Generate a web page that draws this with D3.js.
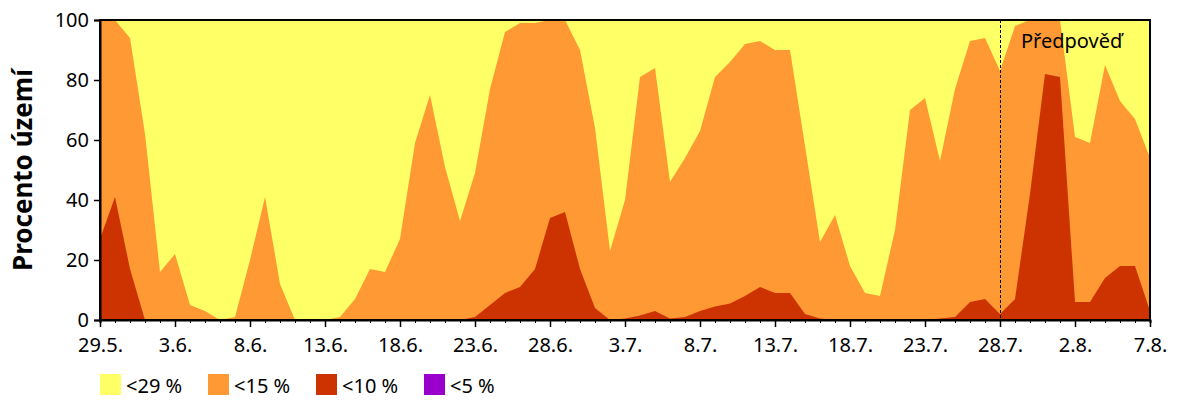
<!DOCTYPE html>
<html><head><meta charset="utf-8">
<script src="https://cdn.jsdelivr.net/npm/d3@7"></script>
<style>body{margin:0;background:#fff}svg{display:block}text{font-family:"Noto Sans","Open Sans",sans-serif;fill:#000}</style>
</head><body>
<svg id="c" width="1200" height="400"></svg>
<script>
// ---- data ----
const startDate = "2020-05-29";
const forecastDate = "2020-07-28";
const tickLabels = ["29.5.","3.6.","8.6.","13.6.","18.6.","23.6.","28.6.","3.7.","8.7.","13.7.","18.7.","23.7.","28.7.","2.8.","7.8."];
const yTicks = [0,20,40,60,80,100];
const seriesNames = ["<29 %","<15 %","<10 %","<5 %"];
const seriesColors = ["#FFFF66","#FF9933","#CC3300","#9900CC"];
const lt29 = [100,100,100,100,100,100,100,100,100,100,100,100,100,100,100,100,100,100,100,100,100,100,100,100,100,100,100,100,100,100,100,100,100,100,100,100,100,100,100,100,100,100,100,100,100,100,100,100,100,100,100,100,100,100,100,100,100,100,100,100,100,100,100,100,100,100,100,100,100,100,100];
const lt15 = [100,100,94,62,16,22,5,3,0,1,20,41,12,0,0,0,1,7,17,16,27,59,75,51,33,49,77,96,99,99,100,100,90,64,23,40,81,84,46,54,63,81,86,92,93,90,90,58,26,35,18,9,8,30,70,74,53,77,93,94,83,98,100,100,100,61,59,85,73,67,54];
const lt10 = [27,41,17,0,0,0,0,0,0,0,0,0,0,0,0,0,0,0,0,0,0,0,0,0,0,1,5,9,11,17,34,36,17,4,0,0.5,1.5,3,0.5,1,3,4.5,5.5,8,11,9,9,2,0.5,0,0,0,0,0,0,0,0.5,1,6,7,2,7,42,82,81,6,6,14,18,18,3];
const lt5 = [0,0,0,0,0,0,0,0,0,0,0,0,0,0,0,0,0,0,0,0,0,0,0,0,0,0,0,0,0,0,0,0,0,0,0,0,0,0,0,0,0,0,0,0,0,0,0,0,0,0,0,0,0,0,0,0,0,0,0,0,0,0,0,0,0,0,0,0,0,0,0];
const forecastLabel = "Předpověď";
const yTitle = "Procento území";

// ---- chart ----
const svg = d3.select("#c");
const L = 100, R = 1150, T = 20, B = 320;
const parse = d3.utcParse("%Y-%m-%d");
const d0 = parse(startDate);
const dateAt = i => d3.utcDay.offset(d0, i);
const x = d3.scaleUtc().domain([d0, dateAt(lt29.length - 1)]).range([L, R]);
const y = d3.scaleLinear().domain([0, 100]).range([B, T]);

const all = [lt29, lt15, lt10, lt5];
all.forEach((s, k) => {
  const area = d3.area().x((d, i) => x(dateAt(i))).y0(y(0)).y1(d => y(d));
  svg.append("path").attr("d", area(s)).attr("fill", seriesColors[k]);
});

// forecast line
const fx = x(parse(forecastDate));
svg.append("line").attr("x1", fx + 0.5).attr("x2", fx + 0.5).attr("y1", T).attr("y2", B)
  .attr("stroke", "#000").attr("stroke-dasharray", "3,2").attr("stroke-width", 1);
svg.append("text").attr("x", fx + 21).attr("y", 48).attr("font-size", 20).text(forecastLabel);

// frame
svg.append("rect").attr("x", L).attr("y", T).attr("width", R - L).attr("height", B - T)
  .attr("fill", "none").attr("stroke", "#000").attr("stroke-width", 2);

// y axis
const ya = svg.append("g").attr("transform", `translate(${L},0)`)
  .call(d3.axisLeft(y).tickValues(yTicks).tickSize(6).tickPadding(5));
ya.select(".domain").attr("stroke-width", 2);
ya.selectAll(".tick line").attr("stroke-width", 1.5);
ya.selectAll("text").attr("font-size", 20).style("font-family", '"Noto Sans",sans-serif');

// x axis: daily minor ticks, major with labels
const days = d3.range(lt29.length).map(dateAt);
const xm = svg.append("g").attr("transform", `translate(0,${B})`)
  .call(d3.axisBottom(x).tickValues(days).tickSize(3).tickFormat(""));
xm.select(".domain").attr("stroke-width", 2);
const majors = tickLabels.map((t, i) => dateAt(i * 5));
const xa = svg.append("g").attr("transform", `translate(0,${B})`)
  .call(d3.axisBottom(x).tickValues(majors).tickSize(7).tickPadding(11).tickFormat((d, i) => tickLabels[i]));
xa.select(".domain").remove();
xa.selectAll(".tick line").attr("stroke-width", 1.5);
xa.selectAll("text").attr("font-size", 20).style("font-family", '"Noto Sans",sans-serif');

// y title
svg.append("text").attr("transform", "translate(32,170) rotate(-90)").attr("text-anchor", "middle")
  .attr("font-size", 26).attr("font-weight", "bold").text(yTitle);

// legend
const lg = svg.append("g");
seriesNames.forEach((n, k) => {
  const gx = 100 + k * 108;
  lg.append("rect").attr("x", gx).attr("y", 374).attr("width", 21).attr("height", 21).attr("fill", seriesColors[k]);
  lg.append("text").attr("x", gx + 26).attr("y", 393).attr("font-size", 20).text(n);
});
</script>
</body></html>
